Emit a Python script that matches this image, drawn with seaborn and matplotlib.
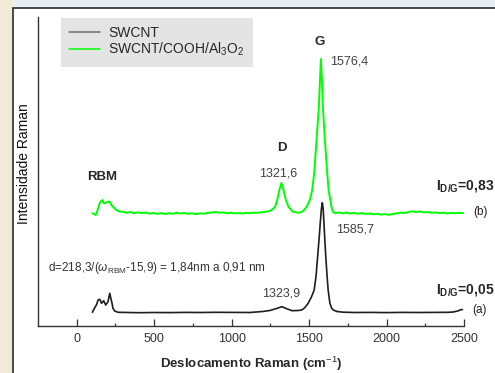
import matplotlib
matplotlib.use("Agg")
import matplotlib.pyplot as plt
from matplotlib.patches import Rectangle
from matplotlib.lines import Line2D
import seaborn as sns
import pandas as pd

# ---------------- data ----------------
swcnt_x = [101, 110, 119, 127, 138, 149, 160, 174, 187, 202, 213, 220, 228, 234, 245, 267,
           300, 400, 500, 600, 700, 800, 900, 1000, 1118, 1200, 1247, 1290, 1323.9, 1355, 1390,
           1430, 1452, 1470, 1494, 1515, 1533, 1545, 1555, 1565, 1572, 1580, 1585.7, 1591, 1596,
           1602, 1608, 1616, 1623, 1634, 1645, 1656, 1680, 1720, 1800, 1900, 2000, 2100, 2200,
           2300, 2400, 2430, 2460, 2474, 2490]
swcnt_y = [13.7, 16.5, 19.0, 21.0, 26.0, 26.7, 22.7, 25.3, 21.0, 24.3, 32.7, 27.7, 22.7, 17.7, 15.0, 13.7,
           13.6, 13.3, 13.5, 13.4, 13.6, 13.5, 13.7, 13.6, 13.5, 14.5, 15.5, 17.5, 19.3, 17.3, 15.3,
           15.5, 16.0, 18.0, 22.7, 29.0, 36.0, 50.0, 69.0, 88.0, 103.0, 118.0, 123.3, 117.0, 103.0,
           85.0, 69.0, 50.0, 36.0, 23.0, 18.0, 16.0, 14.5, 13.8, 13.5, 13.6, 13.4, 13.6, 13.5,
           13.6, 13.7, 14.0, 15.0, 16.0, 16.5]

hybrid_x = [101, 112, 123, 135, 149, 158, 166, 174, 181, 197, 213, 224, 234, 245, 256, 278,
            299, 320, 345, 370, 395, 420, 445, 470, 495, 520, 545, 570, 595, 620, 645, 670,
            695, 720, 745, 770, 795, 820, 845, 870, 895, 920, 945, 970, 995, 1020, 1045, 1070,
            1095, 1120, 1145, 1170, 1195, 1220, 1240, 1258, 1280, 1294, 1308, 1321.6, 1335, 1350,
            1368, 1395, 1420, 1441, 1465, 1484, 1505, 1520, 1533, 1548, 1563, 1570, 1576.4, 1583,
            1589, 1602, 1617, 1626, 1645, 1654, 1670, 1690, 1715, 1740, 1765, 1790, 1815, 1840,
            1865, 1890, 1915, 1940, 1965, 1990, 2015, 2040, 2065, 2090, 2115, 2140, 2165, 2190,
            2215, 2240, 2265, 2290, 2315, 2340, 2365, 2390, 2415, 2440, 2465, 2494]
hybrid_y = [112.7, 112.0, 111.0, 116.0, 123.3, 125.0, 126.0, 123.0, 122.7, 124.0, 124.3, 121.0, 119.3, 117.5, 116.0, 114.3,
            114.3, 113.2, 114.0, 112.8, 113.6, 112.9, 113.5, 112.3, 113.0, 112.1, 112.9, 112.0, 112.8, 112.3, 113.2, 112.5,
            113.0, 112.2, 112.7, 111.9, 112.6, 112.4, 113.1, 113.4, 114.1, 113.3, 113.6, 112.8, 113.2, 112.6, 113.0, 112.5,
            113.1, 112.8, 113.4, 113.2, 113.8, 114.2, 114.8, 116.0, 119.0, 126.0, 136.0, 143.0, 136.0, 126.0,
            119.0, 114.3, 113.5, 113.3, 115.5, 119.3, 126.0, 136.0, 153.0, 186.0, 219.0, 245.0, 267.0, 245.0,
            219.0, 186.0, 153.0, 136.0, 119.0, 114.0, 112.8, 113.6, 112.7, 113.4, 112.5, 113.2, 112.3, 112.9,
            112.1, 112.6, 111.7, 112.2, 111.4, 111.9, 111.2, 112.0, 112.6, 113.3, 113.0, 113.9, 114.6, 114.0,
            114.5, 113.6, 113.9, 113.2, 113.6, 112.9, 113.3, 112.6, 113.1, 112.7, 113.2, 112.9]

series_names = ["SWCNT", "SWCNT/COOH/Al$_3$O$_2$"]
x_ticks = [0, 500, 1000, 1500, 2000, 2500]

# ---------------- style ----------------
sns.set_style("white")
plt.rcParams["font.family"] = ["Liberation Sans", "DejaVu Sans"]
plt.rcParams["mathtext.fontset"] = "custom"
plt.rcParams["mathtext.rm"] = "Liberation Sans"
plt.rcParams["mathtext.it"] = "Liberation Sans:italic"
plt.rcParams["mathtext.bf"] = "Liberation Sans:bold"

df = pd.concat([
    pd.DataFrame({"x": swcnt_x, "y": swcnt_y, "s": series_names[0]}),
    pd.DataFrame({"x": hybrid_x, "y": hybrid_y, "s": series_names[1]}),
])

fig = plt.figure(figsize=(4.95, 3.73), dpi=100)
fig.patch.set_facecolor("#e6edf4")
fig.patches.append(Rectangle((0, 0), 13 / 495, 1, transform=fig.transFigure,
                             facecolor="#f1ead6", edgecolor="none", zorder=-3))
fig.patches.append(Rectangle((13 / 495, -0.1), 1.2, 1.1 - 8 / 373, transform=fig.transFigure,
                             facecolor="white", edgecolor="#2a2a2a", lw=1.2, zorder=-2))

ax = fig.add_axes([38 / 495, 1 - 326 / 373, (464 - 38) / 495, (326 - 17) / 373])
ax.set_facecolor("none")

sns.lineplot(data=df, x="x", y="y", hue="s", sort=False, estimator=None,
             palette=["#1e1e1e", "#00ff00"], linewidth=1.2, ax=ax, legend=False)
ax.lines[1].set_linewidth(1.4)

ax.set_xlim(-250, 2500)
ax.set_ylim(0, 309)
ax.set_xticks(x_ticks)
ax.set_xticks([250, 750, 1250, 1750, 2250], minor=True)
ax.set_xticklabels([str(t) for t in x_ticks])
ax.set_yticks([])
ax.tick_params(axis="x", which="major", direction="in", length=5, width=0.9,
               colors="#333333", labelsize=9, pad=5, bottom=True)
ax.tick_params(axis="x", which="minor", direction="in", length=2.5, width=0.9,
               colors="#333333", bottom=True)
for side in ["top", "right"]:
    ax.spines[side].set_visible(False)
for side in ["left", "bottom"]:
    ax.spines[side].set_color("#333333")
    ax.spines[side].set_linewidth(1.0)

ax.set_xlabel("Deslocamento Raman (cm$^{-1}$)", fontsize=9.5, fontweight="bold", labelpad=7)
ax.set_ylabel("")
fig.text(24 / 495, 1 - 164 / 373, "Intensidade Raman", rotation=90, ha="center", va="center",
         fontsize=10, color="#111111")

# legend
handles = [Line2D([], [], color="#6e6e6e", lw=1.1), Line2D([], [], color="#00ff00", lw=1.1)]
leg = fig.legend(handles, series_names, loc="upper left",
                 bbox_to_anchor=(61 / 495, 1 - 18 / 373), fontsize=10,
                 frameon=True, facecolor="#e4e4e4", edgecolor="none", framealpha=1,
                 fancybox=False, handlelength=2.2, handletextpad=0.6, labelspacing=0.05,
                 borderpad=0.6, borderaxespad=0)

# annotations
gray = "#404040"
ax.text(1570, 284, "G", ha="center", va="center", fontsize=9.5, fontweight="bold")
ax.text(1634, 264, "1576,4", ha="left", va="center", fontsize=9, color=gray)
ax.text(1324, 178, "D", ha="center", va="center", fontsize=9.5, fontweight="bold")
ax.text(1298, 153, "1321,6", ha="center", va="center", fontsize=9, color=gray)
ax.text(161, 149, "RBM", ha="center", va="center", fontsize=9.5, fontweight="bold")
ax.text(2319, 136, "I$_{\\mathbf{D/G}}$=0,83", ha="left", va="baseline", fontsize=10,
        fontweight="bold")
ax.text(2558, 114, "(b)", ha="left", va="center", fontsize=8.5, color="#222222")
ax.text(1673, 96, "1585,7", ha="left", va="center", fontsize=9, color=gray)
ax.text(-187, 58, "d=218,3/($\\omega_{\\mathrm{RBM}}$-15,9) = 1,84nm a 0,91 nm",
        ha="left", va="center", fontsize=8.5, color="#333333")
ax.text(1318, 33, "1323,9", ha="center", va="center", fontsize=9, color=gray)
ax.text(2319, 33, "I$_{\\mathbf{D/G}}$=0,05", ha="left", va="baseline", fontsize=10,
        fontweight="bold")
ax.text(2552, 16, "(a)", ha="left", va="center", fontsize=8.5, color="#222222")

fig.savefig("out.png", dpi=100)
